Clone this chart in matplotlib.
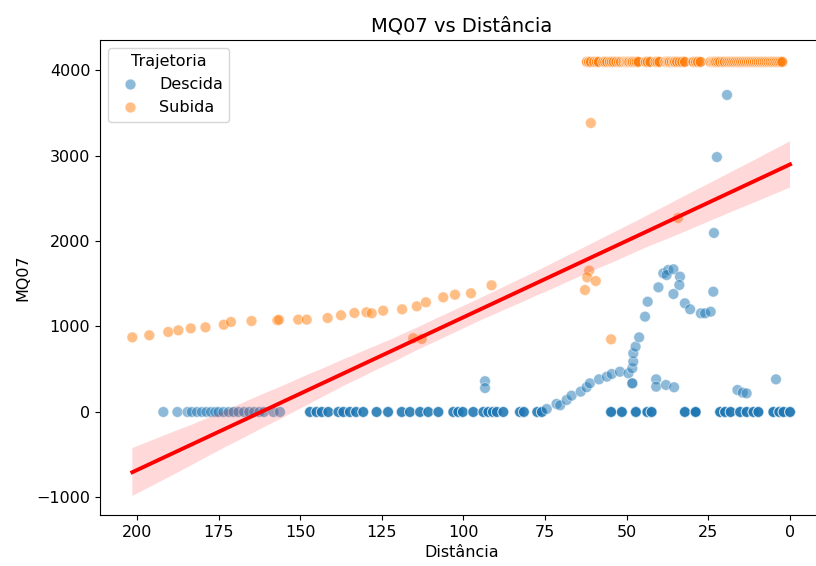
import matplotlib
matplotlib.use("Agg")
import matplotlib.pyplot as plt
import seaborn as sns
import pandas as pd

# ---- data ----
categories = ["Descida", "Subida"]
SAT = 4095  # saturated sensor reading

# Descida, readings at MQ07 = 0 (position, number of overlapping readings)
descida_zero_x = [191.9, 187.6, 184.5, 183.2, 181.6, 180.1, 178.7, 177.3, 176.0, 175.0,
                  173.5, 171.9, 170.4, 168.9, 167.2, 165.6, 164.1, 162.5, 161.1, 158.2,
                  156.2, 147.0, 145.0, 143.4, 141.4, 138.3, 136.8, 134.8, 132.9, 130.7,
                  126.6, 123.1, 118.9, 116.4, 113.3, 110.8, 107.7, 103.1, 101.6, 100.2,
                  97.0, 93.9, 92.4, 91.0, 89.8, 87.8, 82.7, 81.5, 77.4, 76.0,
                  54.8, 51.5, 47.2, 43.7, 42.4, 32.2, 28.9, 28.9, 21.4, 19.9, 18.2,
                  15.3, 13.3, 11.2, 9.7, 5.1, 3.3, 2.0, 0.0]
descida_zero_n = [1] * 21 + [3] * 29 + [4] * 19

# Descida, other readings
descida_other_x = [74.5, 71.5, 70.4, 68.4, 66.9, 64.1, 62.3, 61.3, 58.5, 56.1,
                   54.6, 52.1, 49.5, 48.3, 48.0, 48.0, 47.3, 46.2, 44.4, 43.6,
                   40.3, 38.8, 37.3, 37.8, 35.7, 33.7, 33.9, 35.7, 32.2, 30.6,
                   27.3, 26.0, 24.3, 23.5,
                   48.3, 48.3, 41.0, 41.0, 38.0, 35.5, 16.1, 14.5, 13.3, 4.3,
                   93.4, 93.4, 23.3, 22.4, 19.3, 54.8, 43.5, 36.8, 18.4]
descida_other_y = [35, 94, 78, 140, 191, 238, 289, 335, 382, 413,
                   444, 471, 452, 511, 589, 686, 764, 873, 1115, 1290,
                   1458, 1622, 1661, 1602, 1669, 1583, 1485, 1380, 1271, 1201,
                   1154, 1154, 1173, 1407,
                   335, 335, 382, 296, 316, 289, 257, 226, 218, 382,
                   360, 280, 2094, 2982, 3708, SAT, SAT, SAT, SAT]

# Subida, saturated readings (each position holds two readings)
subida_top_x = [62.2, 61.6, 61.0, 60.0, 59.2, 58.6,
                57.2, 56.6, 56.0, 55.2, 54.6, 54.0, 53.2, 52.4, 51.8, 51.0, 50.4, 50.0,
                49.6, 49.2, 48.6, 48.2, 47.6, 47.0, 46.4,
                44.2, 43.6, 42.8, 41.2, 40.6, 40.0,
                38.2, 37.6, 37.2, 36.8, 36.2, 35.6, 35.2, 34.6, 33.8, 33.0, 32.2,
                29.6, 28.8, 28.2, 27.4,
                24.4, 23.8, 23.4, 23.0, 22.6, 22.0, 21.4, 20.6, 20.0, 19.2, 18.6, 18.0,
                17.4, 16.8, 16.2, 15.6, 15.0, 14.4, 13.8, 13.2, 12.6, 12.0, 11.4, 10.8,
                10.2, 9.6, 9.0, 8.4, 7.8, 7.2, 6.6, 6.0, 5.4, 4.8, 4.2, 3.6, 3.0, 2.4]
subida_top_n = 2

# Subida, other readings
subida_other_x = [61.0, 201.4, 196.2, 190.4, 187.3, 183.5, 179.0, 173.4, 171.2, 164.9,
                  157.0, 156.5, 150.6, 148.0, 141.6, 137.5, 133.4, 129.7, 128.1, 124.6,
                  118.8, 114.3, 111.5, 106.2, 102.6, 97.7, 91.4, 115.4, 112.8,
                  61.5, 62.1, 59.5, 62.8, 54.8, 34.3]
subida_other_y = [3380, 873, 897, 936, 955, 978, 990, 1021, 1053, 1064,
                  1072, 1078, 1080, 1080, 1099, 1131, 1158, 1166, 1154, 1185,
                  1201, 1236, 1283, 1341, 1372, 1388, 1482, 862, 854,
                  1653, 1575, 1532, 1427, 850, 2269]

x_ticks = [200, 175, 150, 125, 100, 75, 50, 25, 0]
y_ticks = [-1000, 0, 1000, 2000, 3000, 4000]

# ---- assemble the table ----
zx = [x for x, n in zip(descida_zero_x, descida_zero_n) for _ in range(n)]
tx = [x for x in subida_top_x for _ in range(subida_top_n)]
dist = zx + descida_other_x + tx + subida_other_x
mq07 = [0] * len(zx) + descida_other_y + [SAT] * len(tx) + subida_other_y
traj = ([categories[0]] * (len(zx) + len(descida_other_x)) +
        [categories[1]] * (len(tx) + len(subida_other_x)))
df = pd.DataFrame({"Distância": dist, "MQ07": mq07, "Trajetoria": traj})

# ---- figure ----
plt.rcParams["font.size"] = 11.5
fig = plt.figure(figsize=(8.16, 5.66), dpi=100)
ax = fig.add_axes([100 / 816, 51 / 566, 724 / 816, 475 / 566])

sns.scatterplot(data=df, x="Distância", y="MQ07", hue="Trajetoria",
                hue_order=categories, alpha=0.5, s=60, ax=ax)
sns.regplot(data=df, x="Distância", y="MQ07", scatter=False, color="red",
            seed=0, line_kws={"linewidth": 2.8}, ax=ax)

ax.set_xlim(211.3, -10.4)
ax.set_ylim(-1205, 4351)
ax.set_xticks(x_ticks)
ax.set_yticks(y_ticks)
ax.set_title("MQ07 vs Distância", fontsize=14)
ax.set_xlabel("Distância")
ax.set_ylabel("MQ07")
ax.legend(title="Trajetoria", loc="upper left")

fig.savefig("out.png", dpi=100)
